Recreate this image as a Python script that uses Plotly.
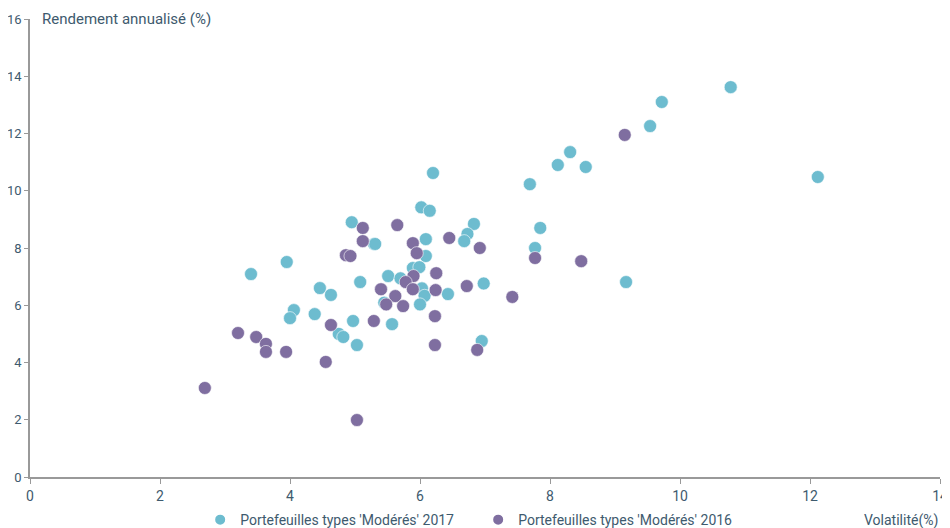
import plotly.graph_objects as go

# Portefeuilles types 'Modérés' 2017 (volatilité, rendement)
vol_2017 = [10.78, 9.72, 9.54, 8.31, 8.12, 8.55, 7.69, 12.12, 6.20, 7.85, 7.77, 9.17,
            6.02, 6.15, 4.95, 6.83, 6.73, 6.68, 6.09, 5.29, 6.09, 3.40, 3.95, 5.51,
            5.89, 5.99, 5.70, 5.08, 6.98, 4.46, 6.03, 6.07, 6.43, 4.63, 4.06, 4.00,
            4.38, 5.45, 6.00, 4.97, 5.57, 4.75, 4.82, 5.03, 6.95, 5.31]
ret_2017 = [13.62, 13.10, 12.26, 11.35, 10.90, 10.83, 10.23, 10.48, 10.62, 8.70, 8.00, 6.81,
            9.42, 9.30, 8.90, 8.84, 8.49, 8.24, 8.31, 8.14, 7.72, 7.09, 7.51, 7.02,
            7.30, 7.33, 6.94, 6.81, 6.76, 6.60, 6.59, 6.33, 6.39, 6.36, 5.83, 5.55,
            5.69, 6.09, 6.03, 5.45, 5.34, 5.00, 4.89, 4.61, 4.75, 8.14]

# Portefeuilles types 'Modérés' 2016 (volatilité, rendement)
vol_2016 = [9.15, 7.77, 8.48, 7.42, 6.88, 6.23, 6.23, 6.24, 6.25, 6.72, 6.92, 6.45,
            5.65, 5.12, 5.12, 4.86, 4.93, 5.89, 5.95, 5.90, 5.78, 5.89, 5.40, 5.62,
            5.48, 5.74, 4.63, 5.29, 3.20, 3.48, 3.63, 3.63, 3.94, 4.55, 2.69, 5.03]
ret_2016 = [11.95, 7.65, 7.54, 6.29, 4.44, 4.61, 5.62, 6.53, 7.12, 6.67, 8.00, 8.35,
            8.80, 8.70, 8.24, 7.75, 7.72, 8.17, 7.82, 7.02, 6.81, 6.56, 6.56, 6.32,
            6.03, 5.97, 5.31, 5.45, 5.03, 4.89, 4.65, 4.37, 4.37, 4.02, 3.11, 1.99]

x_ticks = [0, 2, 4, 6, 8, 10, 12, 14]
y_ticks = [0, 2, 4, 6, 8, 10, 12, 14, 16]

FONT = "Roboto, Liberation Sans, sans-serif"
TXT = "#3e5a6e"
TEAL = "#6dbccf"
PURPLE = "#7f6ea0"


def f(size):
    return dict(family=FONT, size=size, color=TXT)


fig = go.Figure()
fig.add_trace(go.Scatter(
    x=vol_2017, y=ret_2017, mode="markers",
    name="Portefeuilles types 'Modérés' 2017",
    marker=dict(color=TEAL, size=13, line=dict(color="white", width=0.6)),
))
fig.add_trace(go.Scatter(
    x=vol_2016, y=ret_2016, mode="markers",
    name="Portefeuilles types 'Modérés' 2016",
    marker=dict(color=PURPLE, size=13, line=dict(color="white", width=0.6)),
))

fig.update_layout(
    width=942, height=520,
    margin=dict(l=22, r=10, t=11, b=51, autoexpand=False),
    paper_bgcolor="white", plot_bgcolor="white",
    font=f(14),
    showlegend=True,
    legend=dict(orientation="h", x=0.187, xanchor="left", y=-0.094, yanchor="middle",
                font=f(14), itemsizing="constant", entrywidth=233,
                entrywidthmode="pixels",
                itemwidth=30, tracegroupgap=0, bgcolor="rgba(0,0,0,0)"),
    xaxis=dict(range=[0, 14], tickvals=x_ticks, ticktext=[str(v) for v in x_ticks],
               showgrid=False, zeroline=False, showline=True, linecolor="#999999",
               linewidth=1.5, ticks="outside", ticklen=5, tickcolor="#999999",
               tickfont=f(14), automargin=False),
    yaxis=dict(range=[0, 16], tickvals=y_ticks, ticktext=[str(v) for v in y_ticks],
               showgrid=False, zeroline=False, showline=True, linecolor="#999999",
               linewidth=1.5, ticks="outside", ticklen=4, tickcolor="#999999",
               tickfont=f(13), automargin=False),
    annotations=[
        dict(text="Rendement annualisé (%)", xref="paper", yref="paper",
             x=0.011, y=1.0, xanchor="left", yanchor="middle", showarrow=False,
             font=f(15)),
        dict(text="Volatilité(%)", xref="paper", yref="paper",
             x=1.0, y=-0.094, xanchor="right", yanchor="middle", showarrow=False,
             font=f(14)),
    ],
)

fig.write_html("out.html")
